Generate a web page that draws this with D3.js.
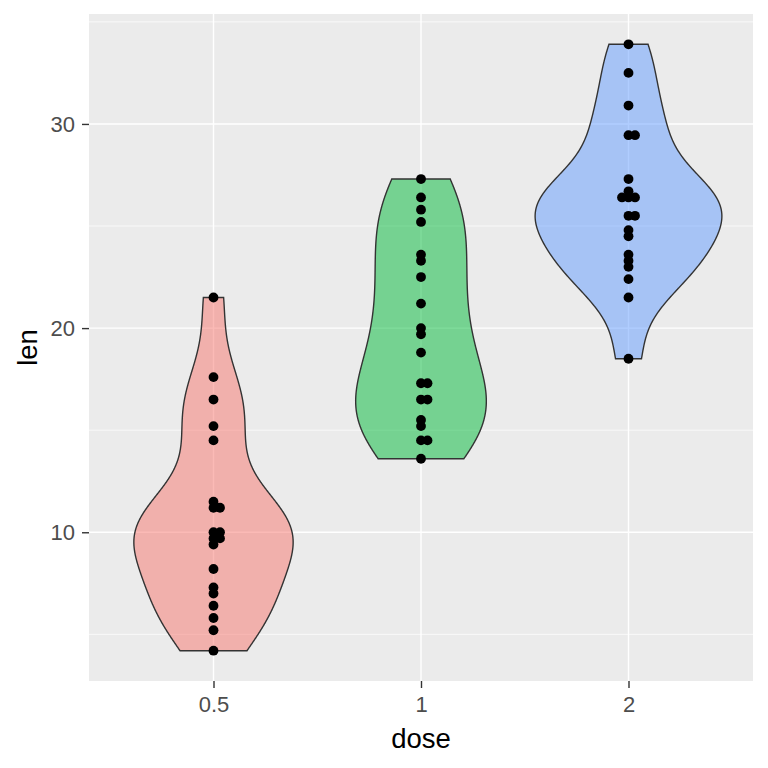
<!DOCTYPE html>
<html>
<head>
<meta charset="utf-8">
<script src="https://cdn.jsdelivr.net/npm/d3@7"></script>
<style>
  body { margin: 0; background: #fff; }
  svg { display: block; font-family: "Liberation Sans", Arial, sans-serif; }
</style>
</head>
<body>
<div id="chart"></div>
<script>
// ToothGrowth len by dose (VC + OJ)
const doses = ["0.5", "1", "2"];
const len05 = [4.2, 11.5, 7.3, 5.8, 6.4, 10.0, 11.2, 11.2, 5.2, 7.0,
               15.2, 21.5, 17.6, 9.7, 14.5, 10.0, 8.2, 9.4, 16.5, 9.7];
const len1  = [16.5, 16.5, 15.2, 17.3, 22.5, 17.3, 13.6, 14.5, 18.8, 15.5,
               19.7, 23.3, 23.6, 26.4, 20.0, 25.2, 25.8, 21.2, 14.5, 27.3];
const len2  = [23.6, 18.5, 33.9, 25.5, 26.4, 32.5, 26.7, 21.5, 23.3, 29.5,
               25.5, 26.4, 22.4, 24.5, 24.8, 30.9, 26.4, 27.3, 29.4, 23.0];
const fills = ["#F8766D", "#00BA38", "#619CFF"];
const yMajor = [10, 20, 30];
const yMinor = [5, 15, 25, 35];

const groups = [len05, len1, len2];

const W = 768, H = 768;
const panel = { left: 89, right: 753, top: 14, bottom: 681 };

const svg = d3.select("#chart").append("svg")
    .attr("width", W)
    .attr("height", H);

// scales
let allVals = [].concat(len05, len1, len2);
let yMin = d3.min(allVals), yMax = d3.max(allVals);
let pad = (yMax - yMin) * 0.05;

let x = d3.scalePoint().domain(doses).range([panel.left, panel.right]).padding(0.6);
let y = d3.scaleLinear().domain([yMin - pad, yMax + pad]).range([panel.bottom, panel.top]);
let unit = x.step();

// panel background + grid
svg.append("rect")
    .attr("x", panel.left).attr("y", panel.top)
    .attr("width", panel.right - panel.left)
    .attr("height", panel.bottom - panel.top)
    .attr("fill", "#EBEBEB");

svg.selectAll("line.minor").data(yMinor).enter().append("line")
    .attr("class", "minor")
    .attr("x1", panel.left).attr("x2", panel.right)
    .attr("y1", d => y(d)).attr("y2", d => y(d))
    .attr("stroke", "#fff").attr("stroke-width", 0.7);

svg.selectAll("line.majorY").data(yMajor).enter().append("line")
    .attr("class", "majorY")
    .attr("x1", panel.left).attr("x2", panel.right)
    .attr("y1", d => y(d)).attr("y2", d => y(d))
    .attr("stroke", "#fff").attr("stroke-width", 1.4);

svg.selectAll("line.majorX").data(doses).enter().append("line")
    .attr("class", "majorX")
    .attr("x1", d => x(d)).attr("x2", d => x(d))
    .attr("y1", panel.top).attr("y2", panel.bottom)
    .attr("stroke", "#fff").attr("stroke-width", 1.4);

// kernel density (gaussian, bw.nrd0), like geom_violin
function quantile7(sorted, p) {
    let h = (sorted.length - 1) * p;
    let lo = Math.floor(h);
    let hi = Math.min(lo + 1, sorted.length - 1);
    return sorted[lo] + (h - lo) * (sorted[hi] - sorted[lo]);
}

function bwNrd0(vals) {
    let s = vals.slice().sort((a, b) => a - b);
    let sd = d3.deviation(vals);
    let iqr = quantile7(s, 0.75) - quantile7(s, 0.25);
    let lo = Math.min(sd, iqr / 1.34);
    return 0.9 * lo * Math.pow(vals.length, -0.2);
}

function density(vals) {
    let bw = bwNrd0(vals);
    let lo = d3.min(vals), hi = d3.max(vals);
    let pts = [];
    for (let i = 0; i < 512; i++) {
        let t = lo + (hi - lo) * i / 511;
        let sum = 0;
        vals.forEach(v => {
            let z = (t - v) / bw;
            sum += Math.exp(-0.5 * z * z);
        });
        pts.push({ y: t, d: sum / (vals.length * bw * Math.sqrt(2 * Math.PI)) });
    }
    return pts;
}

let dens = groups.map(density);
let maxDens = d3.max(dens, g => d3.max(g, p => p.d));

// violins
dens.forEach((g, i) => {
    let cx = x(doses[i]);
    let half = p => p.d / maxDens * 0.45 * unit;
    let outline = g.map(p => [cx - half(p), y(p.y)])
        .concat(g.slice().reverse().map(p => [cx + half(p), y(p.y)]));

    svg.append("path")
        .attr("d", d3.line()(outline) + "Z")
        .attr("fill", fills[i])
        .attr("fill-opacity", 0.5)
        .attr("stroke", "#333333")
        .attr("stroke-width", 1.4);
});

// dotplot (binaxis y, dotdensity binning)
let binwidth = 0.25;
let dotR = 4.9;
let stackStep = 6.5;

groups.forEach((vals, i) => {
    let cx = x(doses[i]);
    let s = vals.slice().sort((a, b) => a - b);
    let bins = [];
    s.forEach(v => {
        let last = bins[bins.length - 1];
        if (last && v < last.start + binwidth) {
            last.vals.push(v);
        } else {
            bins.push({ start: v, vals: [v] });
        }
    });

    let dots = [];
    bins.forEach(b => {
        let center = (d3.min(b.vals) + d3.max(b.vals)) / 2;
        let n = b.vals.length;
        b.vals.forEach((v, k) => {
            dots.push({ cx: cx + (k - Math.floor((n - 1) / 2)) * stackStep, v: center });
        });
    });

    svg.selectAll("circle.g" + i).data(dots).enter().append("circle")
        .attr("class", "g" + i)
        .attr("cx", d => d.cx)
        .attr("cy", d => y(d.v))
        .attr("r", dotR)
        .attr("fill", "#000");
});

// axes
let yAxis = svg.append("g")
    .attr("transform", "translate(" + panel.left + ",0)")
    .call(d3.axisLeft(y).tickValues(yMajor).tickSize(7).tickPadding(7).tickSizeOuter(0));

let xAxis = svg.append("g")
    .attr("transform", "translate(0," + panel.bottom + ")")
    .call(d3.axisBottom(x).tickSize(7).tickPadding(8).tickSizeOuter(0));

[yAxis, xAxis].forEach(a => {
    a.select(".domain").remove();
    a.selectAll(".tick line").attr("stroke", "#333333").attr("stroke-width", 1.4);
    a.selectAll(".tick text")
        .attr("fill", "#4D4D4D")
        .style("font-size", "22px")
        .style("font-family", "Liberation Sans, Arial, sans-serif");
});
yAxis.selectAll(".tick text").attr("dy", "0.35em");

// axis titles
svg.append("text")
    .attr("x", (panel.left + panel.right) / 2)
    .attr("y", 748)
    .attr("text-anchor", "middle")
    .style("font-size", "27.5px")
    .attr("fill", "#000")
    .text("dose");

svg.append("text")
    .attr("transform", "translate(37," + (panel.top + panel.bottom) / 2 + ") rotate(-90)")
    .attr("text-anchor", "middle")
    .style("font-size", "27.5px")
    .attr("fill", "#000")
    .text("len");
</script>
</body>
</html>
